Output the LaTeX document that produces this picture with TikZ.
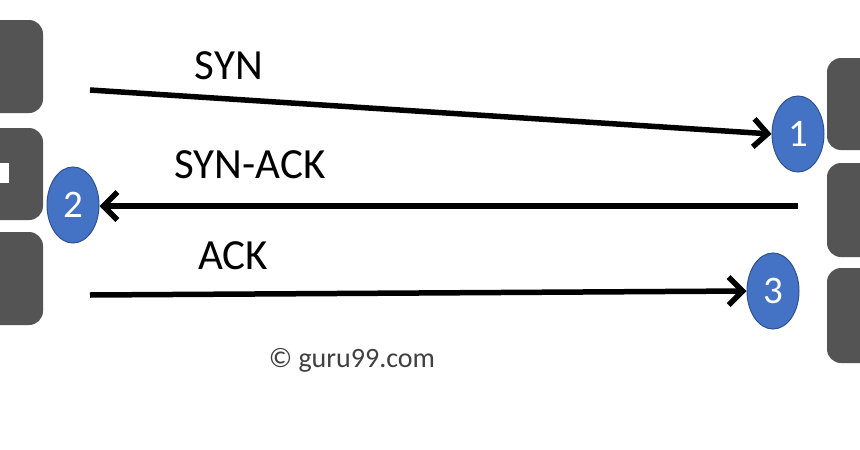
\documentclass[tikz,border=0pt]{standalone}
\usepackage{fontspec}
\setmainfont{Carlito}
\usetikzlibrary{arrows.meta,shapes.geometric}
\definecolor{boxgrey}{HTML}{545454}
\definecolor{blueF}{HTML}{4472C4}
\definecolor{blueD}{HTML}{2F528F}
\definecolor{txtgrey}{HTML}{404040}
\tikzset{
  hostbox/.style={fill=boxgrey, rounded corners=14pt},
  num/.style={ellipse, fill=blueF, draw=blueD, line width=1pt, minimum width=52pt, minimum height=76pt, inner sep=0pt, text=white, font=\fontsize{39}{39}\selectfont},
  msg/.style={font=\fontsize{43}{43}\selectfont, text=black, inner sep=0pt},
  flow/.style={line width=5.5pt, -{Straight Barb[length=14pt,width=28pt,line width=5.5pt]}}
}
\begin{document}
\begin{tikzpicture}[x=1pt,y=-1pt]
\useasboundingbox (0,0) rectangle (860,450);
\clip (0,0) rectangle (860,450);
\fill[white] (0,0) rectangle (860,450);
% left host boxes
\fill[hostbox] (-40,20) rectangle (43,113);
\fill[hostbox] (-40,128) rectangle (43,220);
\fill[white] (-5,163) rectangle (9,183);
\fill[hostbox] (-40,232) rectangle (43,325);
% right host boxes
\fill[hostbox] (827,58) rectangle (900,150);
\fill[hostbox] (827,163) rectangle (900,257);
\fill[hostbox] (827,268) rectangle (900,363);
% step circles
\node[num] (n1) at (798,134) {1};
\node[num] (n2) at (73,205) {2};
\node[num] (n3) at (773,291) {3};
% connector ends
\coordinate (s1) at (90,90);
\coordinate (s2) at (798,206);
\coordinate (s3) at (90,295);
\draw[flow] (s1) -- (n1.west);
\draw[flow] (s2) -- (s2 -| n2.east);
\draw[flow] (s3) -- (n3.west);
% labels
\node[msg] (l1) at (229,66) {SYN};
\node[msg] (l2) at (250,165) {SYN-ACK};
\node[msg] (l3) at (233,256) {ACK};
\node[font=\fontsize{28}{28}\selectfont, text=txtgrey, inner sep=0pt] (c) at (352,360) {© guru99.com};
\end{tikzpicture}
\end{document}
